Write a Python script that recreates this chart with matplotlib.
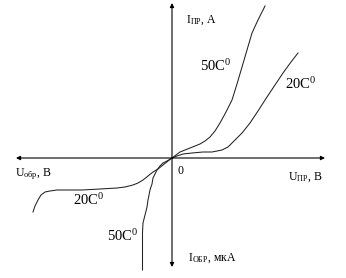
import matplotlib as mpl
mpl.use('Agg')
import matplotlib.pyplot as plt

plt.rcParams['font.family'] = ['Liberation Serif', 'DejaVu Serif']
plt.rcParams['mathtext.fontset'] = 'custom'
plt.rcParams['mathtext.rm'] = 'Liberation Serif'
plt.rcParams['mathtext.it'] = 'Liberation Serif'

# curves (origin at axis crossing, one unit ~ one pixel)
fwd50_x = [0, 4, 8, 13, 18, 23, 28, 33, 38, 43, 48, 54, 60, 65, 70, 75, 80, 86, 93]
fwd50_y = [0, 3, 6, 8, 10, 12, 14, 17, 21, 27, 35, 46, 58, 74, 91, 108, 125, 138, 152]
fwd20_x = [0, 5, 11, 20, 31, 40, 45, 50, 56, 63, 70, 78, 86, 95, 103, 111, 119, 126]
fwd20_y = [0, 2, 4, 5, 6, 6, 7, 8, 11, 18, 25, 35, 47, 61, 73, 85, 96, 105]
rev20_x = [0, -4, -9, -14, -19, -24, -29, -34, -39, -47, -55, -72, -90, -105,
           -115, -122, -127, -131, -134, -137, -139]
rev20_y = [0, -3, -7, -11, -14, -18, -22, -25, -27, -29, -30, -31, -32, -32,
           -32, -33, -34, -37, -42, -48, -54]
rev50_x = [0, -5, -9, -12, -15, -17, -19, -20, -22, -24, -25, -27, -29, -29.5, -29.5]
rev50_y = [0, -3, -5, -8, -12, -16, -20, -26, -32, -42, -49, -57, -65, -75, -112]

fig = plt.figure(figsize=(3.46, 2.78), dpi=100)
ax = fig.add_axes([0, 0, 1, 1])
ax.set_xlim(-172, 174)
ax.set_ylim(-120, 158)
ax.axis('off')

arrow = dict(arrowstyle='<|-|>', lw=0.8, color='black', mutation_scale=6,
             shrinkA=0, shrinkB=0)
ax.annotate('', xy=(-156, 0), xytext=(153, 0), arrowprops=arrow)
ax.annotate('', xy=(0, 155), xytext=(0, -109), arrowprops=arrow)

for xs, ys in [(fwd50_x, fwd50_y), (fwd20_x, fwd20_y),
               (rev20_x, rev20_y), (rev50_x, rev50_y)]:
    ax.plot(xs, ys, color='#222222', lw=0.75)

small = 8.5
big = 10.5
ax.text(14, 138, r'I$_{\mathrm{ПР}}$, A', fontsize=small, va='center')
ax.text(116, -19, r'U$_{\mathrm{ПР}}$, B', fontsize=small, va='center')
ax.text(-157, -16, r'U$_{\mathrm{обр}}$, B', fontsize=small, va='center')
ax.text(16, -100, r'I$_{\mathrm{ОБР}}$, мкА', fontsize=small, va='center')
ax.text(6, -13, '0', fontsize=small, va='center')
ax.text(28, 92, r'50C$^0$', fontsize=big, va='center')
ax.text(113, 74, r'20C$^0$', fontsize=big, va='center')
ax.text(-99, -42, r'20C$^0$', fontsize=big, va='center')
ax.text(-65, -78, r'50C$^0$', fontsize=big, va='center')

fig.savefig('out.png', dpi=100)
